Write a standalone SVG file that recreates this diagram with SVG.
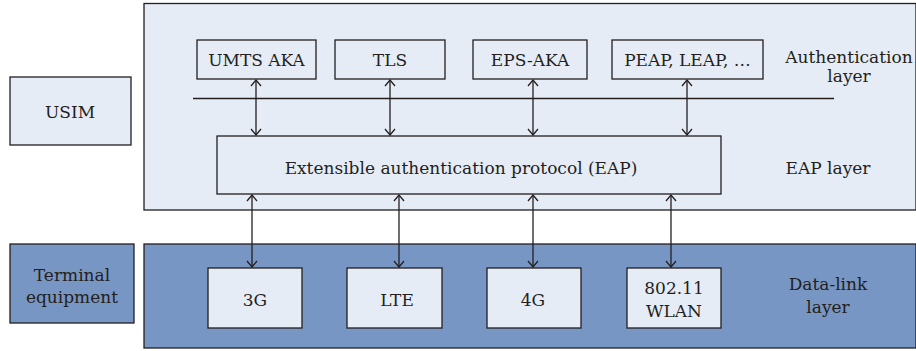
<svg xmlns="http://www.w3.org/2000/svg" width="916" height="351" viewBox="0 0 916 351">
  <defs>
    <marker id="tip" viewBox="0 0 12 12" refX="11" refY="6" markerWidth="12" markerHeight="12" markerUnits="userSpaceOnUse" orient="auto-start-reverse">
      <path d="M5,1 L11,6 L5,11" fill="none" stroke="#231f20" stroke-width="1.3"/>
    </marker>
    <style>
      .light { fill: #e6ecf5; stroke: #231f20; stroke-width: 1.3; }
      .dark { fill: #7896c4; stroke: #231f20; stroke-width: 1.3; }
      .lbl { font-size: 17px; fill: #231f20; text-anchor: middle; }
      .conn { stroke: #231f20; stroke-width: 1.3; fill: none; marker-start: url(#tip); marker-end: url(#tip); }
    </style>
  </defs>

  <g font-family="'DejaVu Serif', serif">
  <!-- layer panels -->
  <g id="auth-panel">
    <rect class="light" x="144" y="3.5" width="772" height="206.5"/>
    <line x1="193" y1="98.5" x2="834" y2="98.5" stroke="#231f20" stroke-width="1.3"/>
    <text class="lbl" x="849" y="63">Authentication</text>
    <text class="lbl" x="849" y="82">layer</text>
    <text class="lbl" x="828" y="174">EAP layer</text>
  </g>
  <g id="datalink-panel">
    <rect class="dark" x="144" y="244" width="772" height="104"/>
    <text class="lbl" x="828" y="290">Data-link</text>
    <text class="lbl" x="828" y="313">layer</text>
  </g>

  <g id="usim">
    <rect class="light" x="10" y="77" width="121" height="68"/>
    <text class="lbl" x="70" y="118">USIM</text>
  </g>
  <g id="terminal">
    <rect class="dark" x="10" y="244" width="124" height="79"/>
    <text class="lbl" x="72" y="281">Terminal</text>
    <text class="lbl" x="72" y="303">equipment</text>
  </g>

  <!-- authentication methods -->
  <g id="umts-aka">
    <rect class="light" x="197" y="40" width="119" height="39"/>
    <text class="lbl" x="256.5" y="66">UMTS AKA</text>
  </g>
  <g id="tls">
    <rect class="light" x="335" y="40" width="110" height="39"/>
    <text class="lbl" x="390" y="66">TLS</text>
  </g>
  <g id="eps-aka">
    <rect class="light" x="473" y="40" width="114" height="39"/>
    <text class="lbl" x="530" y="66">EPS-AKA</text>
  </g>
  <g id="peap">
    <rect class="light" x="612" y="40" width="151" height="39"/>
    <text class="lbl" x="687.5" y="66">PEAP, LEAP, …</text>
  </g>

  <g id="eap">
    <rect class="light" x="217" y="136" width="504" height="58"/>
    <text class="lbl" x="461" y="174">Extensible authentication protocol (EAP)</text>
  </g>

  <!-- link technologies -->
  <g id="link-3g">
    <rect class="light" x="208" y="268" width="94" height="60"/>
    <text class="lbl" x="255" y="306">3G</text>
  </g>
  <g id="link-lte">
    <rect class="light" x="347" y="268" width="95" height="60"/>
    <text class="lbl" x="397" y="306">LTE</text>
  </g>
  <g id="link-4g">
    <rect class="light" x="487" y="268" width="94" height="60"/>
    <text class="lbl" x="533" y="306">4G</text>
  </g>
  <g id="link-wlan">
    <rect class="light" x="627" y="268" width="94" height="60"/>
    <text class="lbl" x="674" y="294">802.11</text>
    <text class="lbl" x="674" y="317">WLAN</text>
  </g>
  </g>

  <g id="connectors">
    <line class="conn" x1="256" y1="80" x2="256" y2="135"/>
    <line class="conn" x1="390" y1="80" x2="390" y2="135"/>
    <line class="conn" x1="533" y1="80" x2="533" y2="135"/>
    <line class="conn" x1="687" y1="80" x2="687" y2="135"/>
    <line class="conn" x1="252" y1="195" x2="252" y2="267"/>
    <line class="conn" x1="399" y1="195" x2="399" y2="267"/>
    <line class="conn" x1="533" y1="195" x2="533" y2="267"/>
    <line class="conn" x1="671" y1="195" x2="671" y2="267"/>
  </g>
</svg>
